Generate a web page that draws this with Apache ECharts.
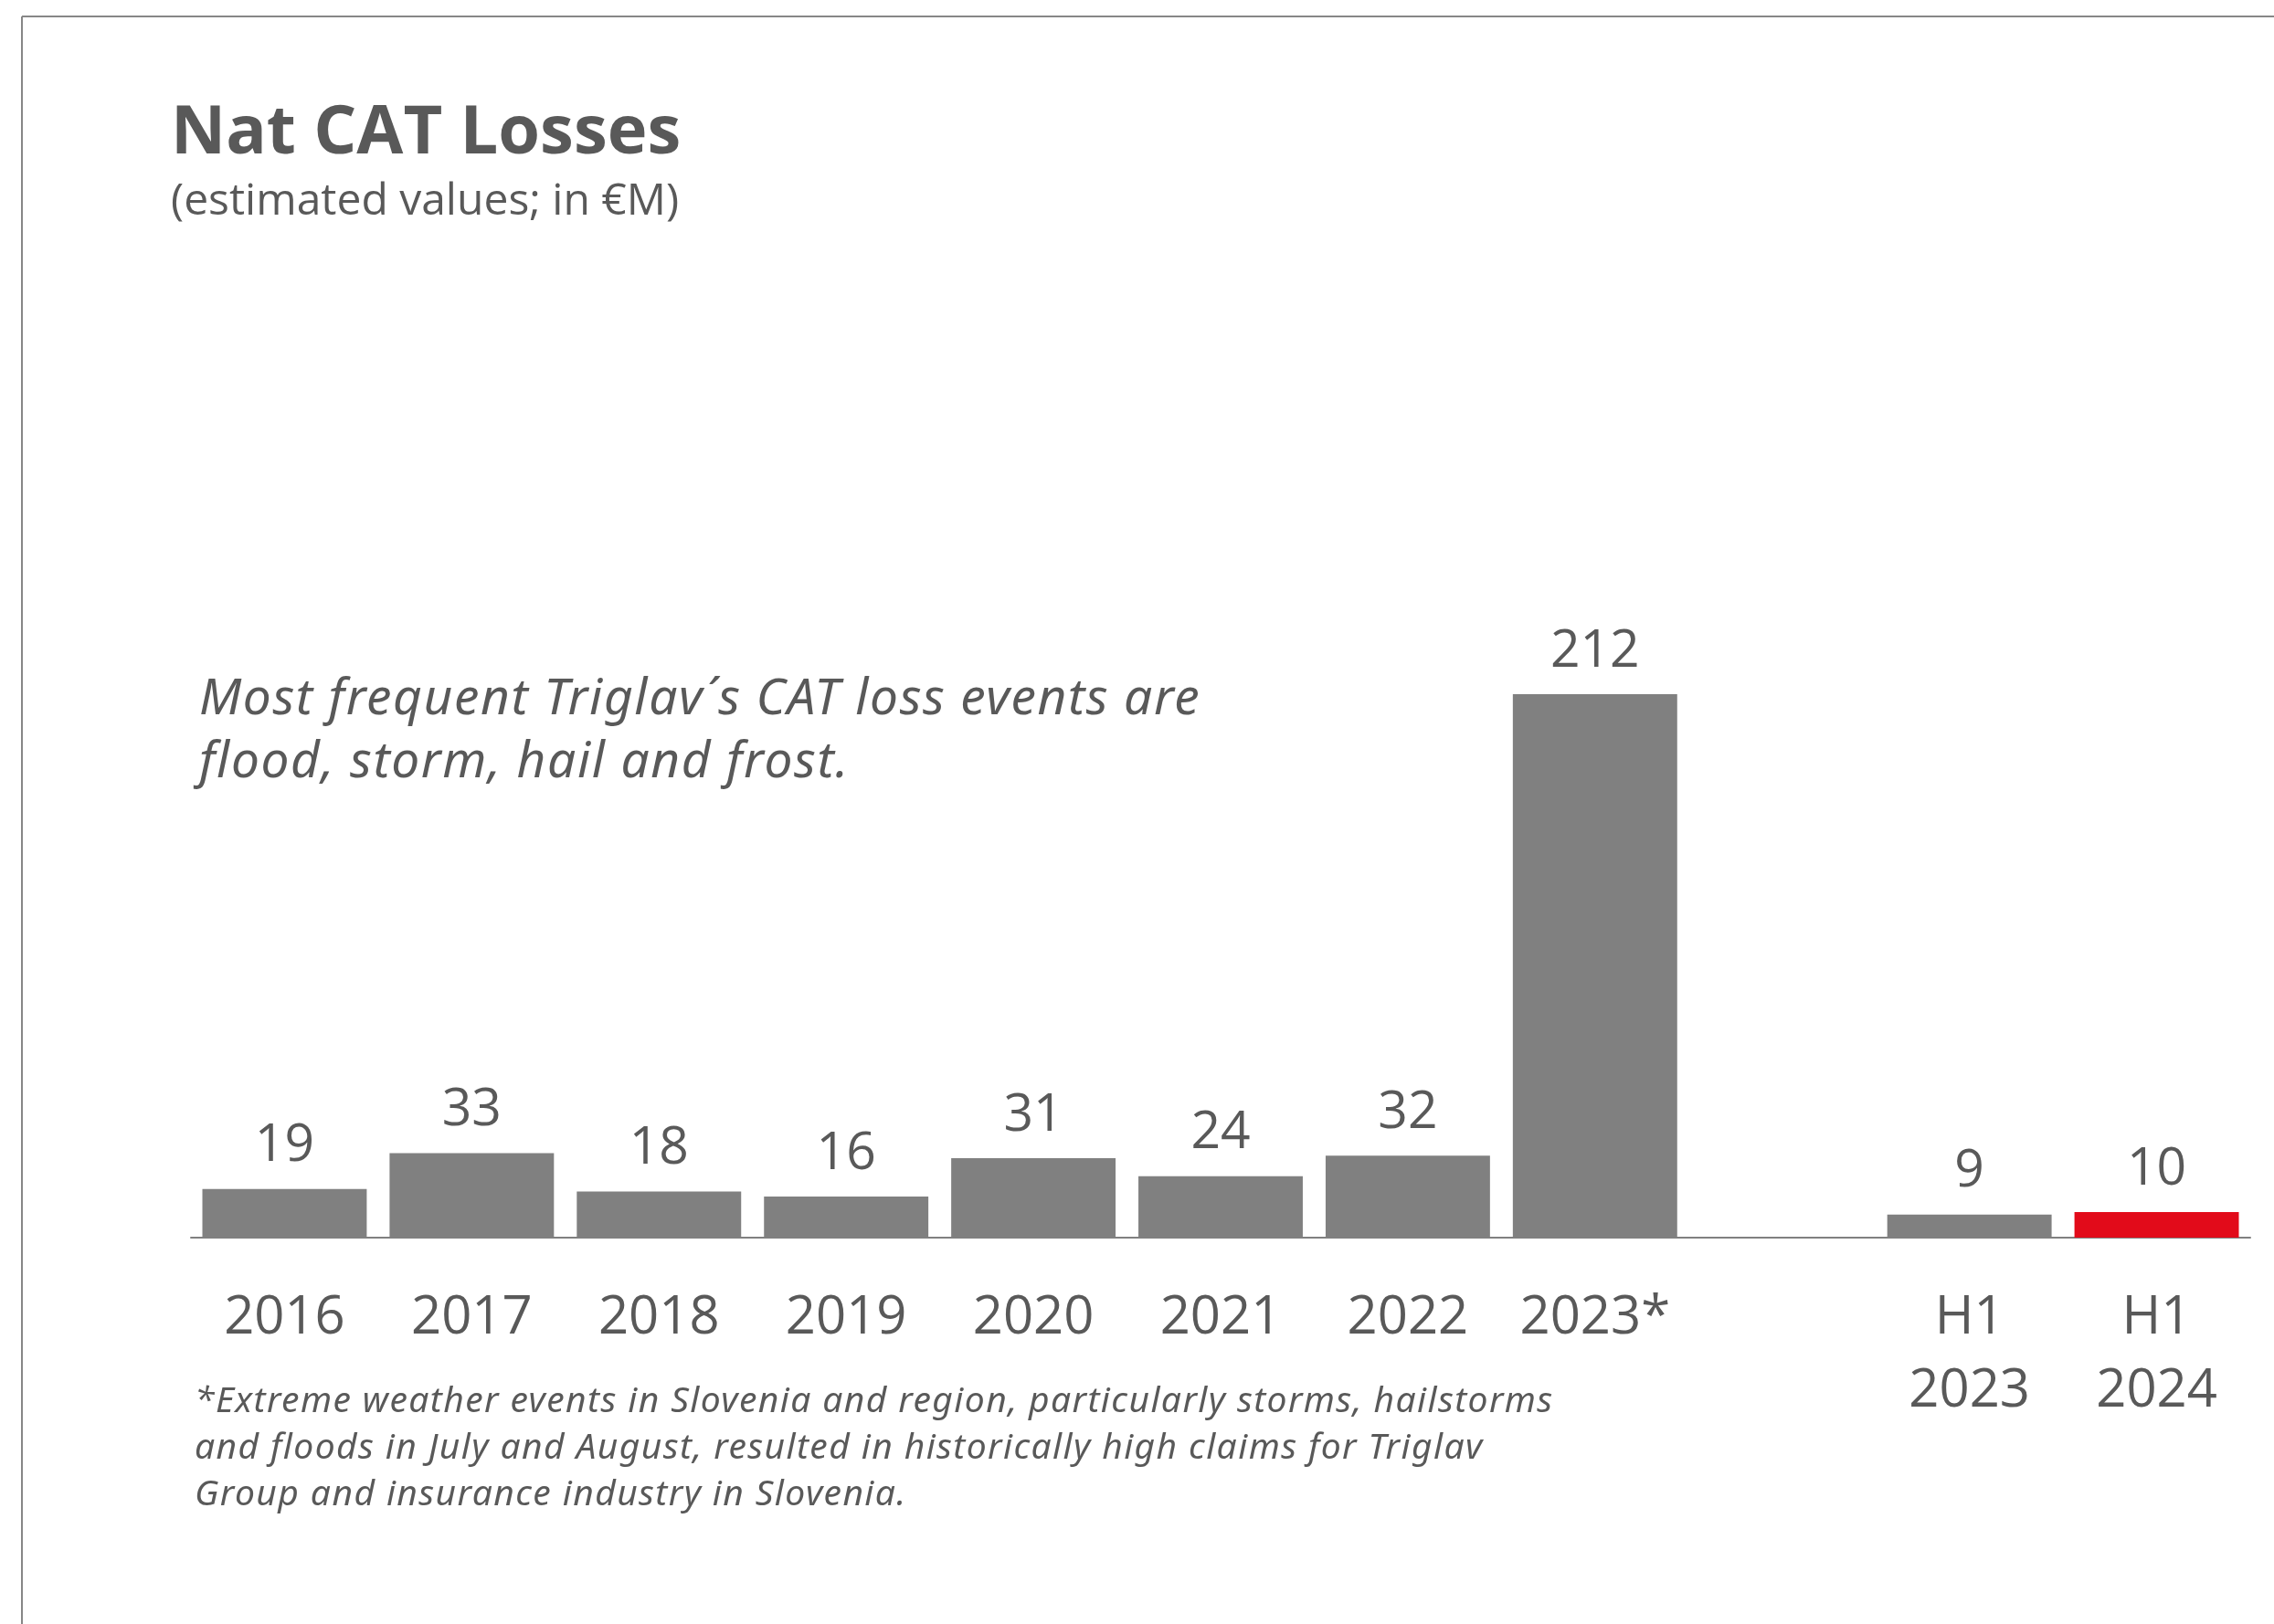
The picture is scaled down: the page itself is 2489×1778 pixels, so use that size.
<!DOCTYPE html>
<html>
<head>
<meta charset="utf-8">
<title>Nat CAT Losses</title>
<script src="https://cdn.jsdelivr.net/npm/echarts@6/dist/echarts.min.js"></script>
<style>
  html, body { margin: 0; padding: 0; background: #ffffff; }
  #chart { width: 2489px; height: 1778px; }
</style>
</head>
<body>
<div id="chart"></div>
<script>
// Periods on the x axis; the empty entry keeps a gap between full years and half-years
const categories = ['2016', '2017', '2018', '2019', '2020', '2021', '2022', '2023*', '', 'H1\n2023', 'H1\n2024'];
// Estimated Nat CAT losses, in €M
const losses = [19, 33, 18, 16, 31, 24, 32, 212, null, 9, 10];
// Period drawn in the accent colour
const highlightPeriod = 'H1\n2024';

const titleText = 'Nat CAT Losses';
const subtitleText = '(estimated values; in €M)';
const noteText = 'Most frequent Triglav´s CAT loss events are\nflood, storm, hail and frost.';
const footnoteText = '*Extreme weather events in Slovenia and region, particularly storms, hailstorms\n' +
  'and floods in July and August, resulted in historically high claims for Triglav\n' +
  'Group and insurance industry in Slovenia.';

const FONT = '"Open Sans", "Noto Sans", sans-serif';
const ITALIC_FONT = '"Noto Sans", "Open Sans", sans-serif';
const TEXT_GREY = '#595959';
const BAR_GREY = '#808080';
const ACCENT_RED = '#E20B1A';
const FRAME_GREY = '#878787';

// The italic note and footnote sit on their own canvas layers so they can be
// drawn with slightly expanded character spacing.
const NOTE_LAYER = 1;
const FOOTNOTE_LAYER = 2;

const seriesData = losses.map((v, i) => ({
  value: v,
  itemStyle: { color: categories[i] === highlightPeriod ? ACCENT_RED : BAR_GREY }
}));

const chart = echarts.init(document.getElementById('chart'), null, { renderer: 'canvas' });

try {
  const painter = chart.getZr().painter;
  const noteLayer = painter.getLayer(NOTE_LAYER);
  const footLayer = painter.getLayer(FOOTNOTE_LAYER);
  if (noteLayer && noteLayer.ctx && 'letterSpacing' in noteLayer.ctx) {
    noteLayer.ctx.letterSpacing = '1.6px';
    footLayer.ctx.letterSpacing = '1.4px';
  }
} catch (e) { /* plain spacing is fine */ }

chart.setOption({
  backgroundColor: '#ffffff',
  animation: false,
  title: [
    {
      text: titleText, left: 182, top: 105,
      textStyle: { fontFamily: FONT, fontWeight: 'bold', fontSize: 74, lineHeight: 74, color: TEXT_GREY }
    },
    {
      text: subtitleText, left: 182, top: 192,
      textStyle: { fontFamily: FONT, fontWeight: 'normal', fontSize: 48, lineHeight: 48, color: TEXT_GREY }
    },
    {
      text: noteText, left: 213, top: 727, zlevel: NOTE_LAYER,
      textStyle: { fontFamily: ITALIC_FONT, fontStyle: 'italic', fontWeight: 'normal', fontSize: 55, lineHeight: 69, color: TEXT_GREY }
    },
    {
      text: footnoteText, left: 208, top: 1504, zlevel: FOOTNOTE_LAYER,
      textStyle: { fontFamily: ITALIC_FONT, fontStyle: 'italic', fontWeight: 'normal', fontSize: 39, lineHeight: 51, color: TEXT_GREY }
    }
  ],
  graphic: [
    // frame: top and left rules
    { type: 'line', shape: { x1: 24, y1: 18, x2: 2489, y2: 18 }, style: { stroke: FRAME_GREY, lineWidth: 2 }, silent: true },
    { type: 'line', shape: { x1: 24, y1: 18, x2: 24, y2: 1778 }, style: { stroke: FRAME_GREY, lineWidth: 2 }, silent: true }
  ],
  grid: { left: 209, right: 26, top: 653.3, bottom: 423, containLabel: false },
  xAxis: {
    type: 'category',
    data: categories,
    axisLine: { show: true, lineStyle: { color: BAR_GREY, width: 2 } },
    axisTick: { show: false },
    axisLabel: {
      interval: 0, margin: 48,
      fontFamily: FONT, fontSize: 58, lineHeight: 80, color: TEXT_GREY
    },
    splitLine: { show: false }
  },
  yAxis: {
    type: 'value', min: 0, max: 250,
    show: false,
    splitLine: { show: false }
  },
  series: [{
    type: 'bar',
    data: seriesData,
    barCategoryGap: '12.2%',
    label: {
      show: true, position: 'top', distance: 18,
      fontFamily: FONT, fontSize: 57, lineHeight: 57, color: TEXT_GREY
    }
  }]
});
</script>
</body>
</html>
